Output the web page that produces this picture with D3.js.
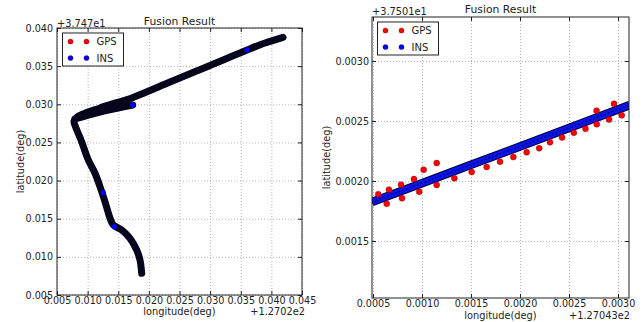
<!DOCTYPE html>
<html>
<head>
<meta charset="utf-8">
<script src="https://cdnjs.cloudflare.com/ajax/libs/d3/7.8.5/d3.min.js"></script>
<style>
  body { margin: 0; background: #fff; }
  svg { font-family: "DejaVu Sans", sans-serif; }
</style>
</head>
<body>
<div id="chart"></div>
<script>
// values are relative to the matplotlib offsets shown on the axes
// left panel: whole fused track (lon - 127.02, lat - 37.47)
const trackLon = [0.01883, 0.01855, 0.01801, 0.01692, 0.01557, 0.01419, 0.01366, 0.01284, 0.01202, 0.01121,
  0.01011, 0.00892, 0.00810, 0.00778, 0.00827, 0.01202, 0.01741, 0.02296, 0.02950, 0.03603, 0.03897, 0.04190]
const trackLat = [0.00784, 0.00959, 0.01090, 0.01243, 0.01352, 0.01418, 0.01506, 0.01723, 0.01920, 0.02096,
  0.02270, 0.02532, 0.02690, 0.02781, 0.02834, 0.02952, 0.03090, 0.03275, 0.03493, 0.03712, 0.03804, 0.03878]
// short spur leaving the corner
const spurLon = [0.00794, 0.01202, 0.01736]
const spurLat = [0.02807, 0.02899, 0.02991]
// INS points that stick out of the dark band
const insOutLon = [0.01736, 0.03603, 0.01256, 0.01436]
const insOutLat = [0.02991, 0.03712, 0.01841, 0.01395]

// right panel: zoomed segment (lon - 127.043, lat - 37.501)
const gpsLon = [0.000554, 0.000640, 0.000663, 0.000786, 0.000796, 0.000918, 0.000972, 0.001017, 0.001150, 0.001150,
  0.001330, 0.001507, 0.001660, 0.001796, 0.001932, 0.002068, 0.002196, 0.002306, 0.002429, 0.002549,
  0.002668, 0.002783, 0.002781, 0.002908, 0.002959, 0.003038]
const gpsLat = [0.001889, 0.001811, 0.001928, 0.001969, 0.001856, 0.002017, 0.001911, 0.002094, 0.002150, 0.001967,
  0.002023, 0.002075, 0.002117, 0.002161, 0.002200, 0.002239, 0.002273, 0.002323, 0.002363, 0.002402,
  0.002435, 0.002473, 0.002586, 0.002513, 0.002643, 0.002548]
const insLon = [0.00049, 0.0010, 0.0015, 0.0020, 0.0025, 0.00312]
const insLat = [0.001825, 0.001982, 0.002135, 0.002288, 0.002442, 0.002633]

// tick labels
const leftXTicks = [0.005, 0.010, 0.015, 0.020, 0.025, 0.030, 0.035, 0.040, 0.045]
const leftYTicks = [0.005, 0.010, 0.015, 0.020, 0.025, 0.030, 0.035, 0.040]
const rightXTicks = [0.0005, 0.0010, 0.0015, 0.0020, 0.0025, 0.0030]
const rightYTicks = [0.0015, 0.0020, 0.0025, 0.0030]

const svg = d3.select('#chart').append('svg')
  .attr('width', 644)
  .attr('height', 322)

const zip = (a, b) => a.map((v, i) => [v, b[i]])

//draws one matplotlib-like panel, returns scales and the plot group
function panel(o) {
  const x = d3.scaleLinear().domain(o.xDomain).range([o.left, o.right])
  const y = d3.scaleLinear().domain(o.yDomain).range([o.bottom, o.top])
  const w = o.right - o.left, h = o.bottom - o.top

  // dotted grid
  svg.append('g')
    .attr('transform', `translate(0,${o.bottom})`)
    .call(d3.axisBottom(x).tickValues(o.xTicks).tickSize(-h).tickFormat(''))
    .call(g => g.select('.domain').remove())
    .selectAll('line').attr('stroke', '#b4b4b4').attr('stroke-dasharray', '1,2')
  svg.append('g')
    .attr('transform', `translate(${o.left},0)`)
    .call(d3.axisLeft(y).tickValues(o.yTicks).tickSize(-w).tickFormat(''))
    .call(g => g.select('.domain').remove())
    .selectAll('line').attr('stroke', '#b4b4b4').attr('stroke-dasharray', '1,2')

  const plot = svg.append('g')
  const clipId = 'clip' + o.left
  svg.append('clipPath').attr('id', clipId)
    .append('rect').attr('x', o.left).attr('y', o.top).attr('width', w).attr('height', h)
  plot.attr('clip-path', `url(#${clipId})`)

  // tick axes, ticks pointing inward
  const fmt = d3.format(o.fmt)
  const bottom = svg.append('g').attr('transform', `translate(0,${o.bottom})`)
    .call(d3.axisBottom(x).tickValues(o.xTicks).tickSizeInner(-4).tickSizeOuter(0).tickPadding(2.5).tickFormat(fmt))
  const leftAx = svg.append('g').attr('transform', `translate(${o.left},0)`)
    .call(d3.axisLeft(y).tickValues(o.yTicks).tickSizeInner(-4).tickSizeOuter(0).tickPadding(o.yPad).tickFormat(fmt))
  const topAx = svg.append('g').attr('transform', `translate(0,${o.top})`)
    .call(d3.axisTop(x).tickValues(o.xTicks).tickSizeInner(-4).tickSizeOuter(0).tickFormat(''))
  const rightAx = svg.append('g').attr('transform', `translate(${o.right},0)`)
    .call(d3.axisRight(y).tickValues(o.yTicks).tickSizeInner(-4).tickSizeOuter(0).tickFormat(''))
  ;[bottom, leftAx, topAx, rightAx].forEach(g => {
    g.select('.domain').remove()
    g.selectAll('line').attr('stroke', '#222')
    g.selectAll('text').attr('fill', '#222').style('font-size', '9.6px').style('font-family', '"DejaVu Sans", sans-serif')
  })

  svg.append('text')
    .attr('x', (o.left + o.right) / 2).attr('y', o.titleY)
    .attr('text-anchor', 'middle').style('font-size', '10.8px').attr('fill', '#222')
    .text('Fusion Result')
  svg.append('text')
    .attr('x', o.left).attr('y', o.yOffY)
    .style('font-size', '9.8px').attr('fill', '#222')
    .text(o.yOffset)
  svg.append('text')
    .attr('x', o.xOffX).attr('y', o.xOffY)
    .attr('text-anchor', 'end').style('font-size', '9.8px').attr('fill', '#222')
    .text(o.xOffset)
  svg.append('text')
    .attr('x', (o.left + o.right) / 2).attr('y', o.xLabelY)
    .attr('text-anchor', 'middle').style('font-size', '9.8px').attr('fill', '#222')
    .text('longitude(deg)')
  svg.append('text')
    .attr('transform', `translate(${o.yLabelX},${(o.top + o.bottom) / 2}) rotate(-90)`)
    .attr('text-anchor', 'middle').style('font-size', '9.8px').attr('fill', '#222')
    .text('latitude(deg)')

  return { x, y, plot, frame: () => svg.append('rect')
    .attr('x', o.left).attr('y', o.top).attr('width', w).attr('height', h)
    .attr('fill', 'none').attr('stroke', '#222').attr('stroke-width', 1) }
}

function legend(lx, ly) {
  const g = svg.append('g')
  g.append('rect').attr('x', lx).attr('y', ly).attr('width', 61).attr('height', 33)
    .attr('fill', '#fff').attr('stroke', '#222').attr('stroke-width', 1)
  const items = [['GPS', '#ff0000'], ['INS', '#0000ff']]
  items.forEach((it, i) => {
    const cy = ly + 8.5 + i * 16.5
    ;[8, 24].forEach(dx => g.append('circle').attr('cx', lx + dx).attr('cy', cy).attr('r', 2.6)
      .attr('fill', it[1]).attr('stroke', '#300').attr('stroke-width', 0.3))
    g.append('text').attr('x', lx + 34).attr('y', cy + 3.7)
      .style('font-size', '10px').attr('fill', '#222').text(it[0])
  })
}

//left panel
const L = panel({
  left: 57, right: 302, top: 28, bottom: 295,
  xDomain: [0.005, 0.045], yDomain: [0.005, 0.040],
  xTicks: leftXTicks, yTicks: leftYTicks, fmt: '.3f', yPad: 4,
  titleY: 25, yOffset: '+3.747e1', yOffY: 26.5,
  xOffset: '+1.2702e2', xOffX: 305, xOffY: 314.5,
  xLabelY: 315, yLabelX: 24
})
const lineL = d3.line().x(d => L.x(d[0])).y(d => L.y(d[1])).curve(d3.curveCatmullRom.alpha(0.5))
L.plot.append('path').datum(zip(trackLon, trackLat))
  .attr('d', lineL).attr('fill', 'none').attr('stroke', '#05051c')
  .attr('stroke-width', 7).attr('stroke-linejoin', 'round').attr('stroke-linecap', 'round')
L.plot.append('path').datum(zip(spurLon, spurLat))
  .attr('d', lineL).attr('fill', 'none').attr('stroke', '#05051c')
  .attr('stroke-width', 7).attr('stroke-linejoin', 'round').attr('stroke-linecap', 'round')
L.plot.selectAll('circle.ins').data(zip(insOutLon, insOutLat)).join('circle')
  .attr('cx', d => L.x(d[0])).attr('cy', d => L.y(d[1])).attr('r', 2.6)
  .attr('fill', '#0000ff')
L.frame()
legend(62.5, 33)

//right panel
const R = panel({
  left: 372, right: 629, top: 17, bottom: 298,
  xDomain: [0.00049, 0.003112], yDomain: [0.001025, 0.003367],
  xTicks: rightXTicks, yTicks: rightYTicks, fmt: '.4f', yPad: 3,
  titleY: 13, yOffset: '+3.7501e1', yOffY: 15,
  xOffset: '+1.27043e2', xOffX: 630, xOffY: 318.5,
  xLabelY: 319, yLabelX: 330
})
const lineR = d3.line().x(d => R.x(d[0])).y(d => R.y(d[1]))
R.plot.append('path').datum(zip(insLon, insLat))
  .attr('d', lineR).attr('fill', 'none').attr('stroke', '#00003c').attr('stroke-width', 8.5)
R.plot.append('path').datum(zip(insLon, insLat))
  .attr('d', lineR).attr('fill', 'none').attr('stroke', '#0a14e6').attr('stroke-width', 6.5)
R.plot.append('path').datum(zip(insLon, insLat))
  .attr('d', lineR).attr('fill', 'none').attr('stroke', '#000070').attr('stroke-width', 1.2)
  .attr('stroke-dasharray', '2,2')
R.plot.selectAll('circle.gps').data(zip(gpsLon, gpsLat)).join('circle')
  .attr('cx', d => R.x(d[0])).attr('cy', d => R.y(d[1])).attr('r', 3)
  .attr('fill', '#ff0000').attr('stroke', '#600').attr('stroke-width', 0.4)
R.frame()
legend(377.5, 22)
</script>
</body>
</html>
